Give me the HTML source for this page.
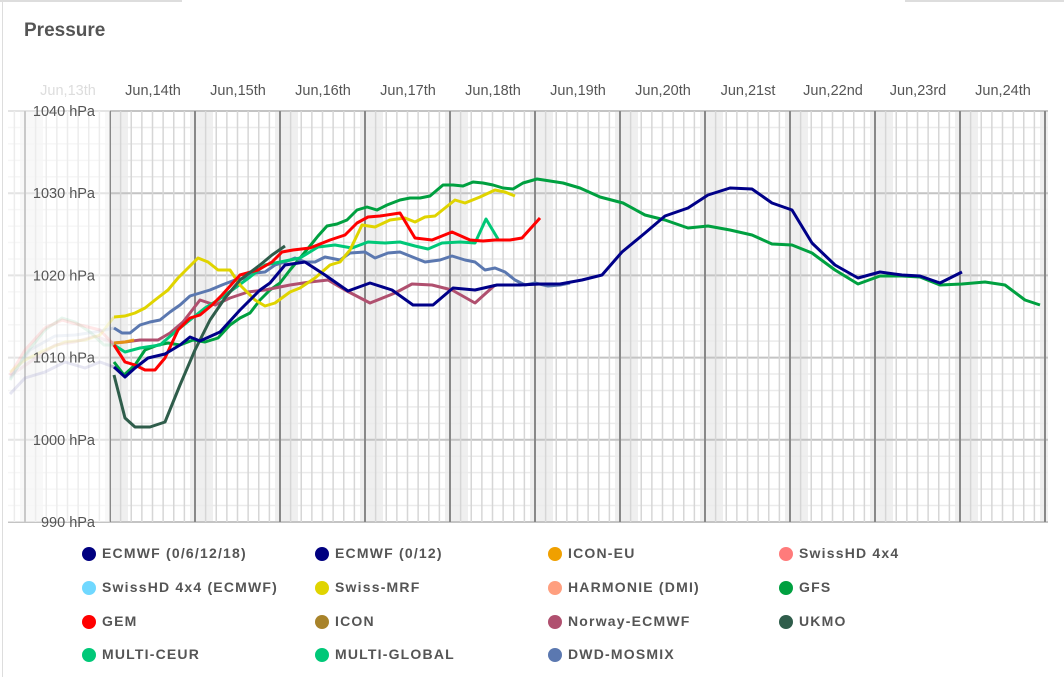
<!DOCTYPE html>
<html><head><meta charset="utf-8"><style>
body{margin:0;background:#fff;width:1064px;height:677px;overflow:hidden;font-family:"Liberation Sans",sans-serif}
.lg{position:absolute;font:bold 14px "Liberation Sans",sans-serif;color:#555;letter-spacing:1.2px}
.lg i{position:absolute;left:-20px;top:2px;width:14px;height:14px;border-radius:50%}
</style></head><body>
<svg id="s" width="1064" height="677" style="position:absolute;left:0;top:0"></svg>
<div style="position:absolute;left:0;top:0;width:182px;height:2px;background:#ddd"></div>
<div style="position:absolute;left:905px;top:0;width:159px;height:2px;background:#ddd"></div>
<div style="position:absolute;left:2px;top:0;width:1px;height:677px;background:#ddd"></div>
<div style="position:absolute;left:24px;top:20px;font:bold 19px 'Liberation Sans',sans-serif;color:#555">Pressure</div>
<div id="leg"></div>
<script>
var s=document.getElementById('s'),h='';
function L(x1,y1,x2,y2,c,w){h+='<line x1="'+x1+'" y1="'+y1+'" x2="'+x2+'" y2="'+y2+'" stroke="'+c+'" stroke-width="'+w+'"/>';}
var X0=110,D=85,Y40=111,P=8.22;
function Y(p){return Y40+(1040-p)*P;}
for(var d=-1;d<12;d++){var m=X0+d*D;var a=Math.max(m-5,8),b=Math.min(m+18,1048);if(b>a)h+='<rect x="'+a+'" y="111" width="'+(b-a)+'" height="411" fill="#efefef"/>';}
for(var p=990;p<=1040;p+=2){L(8,Y(p),1048,Y(p),p%10==0?'#c4c4c4':'#ebebeb',p%10==0?2:1.5);}
for(var k=-30;k<=100;k++){var x=X0+k*D/8;if(x<8||x>1048)continue;L(x,111,x,522,k%8==0?'#888':'#d6d6d6',k%8==0?2:1.5);}
var labels=['Jun,13th','Jun,14th','Jun,15th','Jun,16th','Jun,17th','Jun,18th','Jun,19th','Jun,20th','Jun,21st','Jun,22nd','Jun,23rd','Jun,24th'];
for(var i=0;i<12;i++)h+='<text x="'+(X0-42+i*D)+'" y="95" text-anchor="middle" font-size="14.5" fill="'+(i==0?'#ddd':'#555')+'" font-family="Liberation Sans">'+labels[i]+'</text>';
function pl(pts,c,w,o){h+='<polyline fill="none" stroke="'+c+'" stroke-width="'+(w||3)+'" stroke-linejoin="round" opacity="'+(o||1)+'" points="'+pts+'"/>';}
pl('10,380 25,355 45,330 62,318 75,322 90,332 104,345 114,345','#00a040',3,.2);
pl('10,375 25,350 45,328 62,320 80,325 100,330 114,345','#ff0000',3,.2);
pl('10,372 25,360 45,350 65,342 85,340 100,335 114,317','#e0d400',3,.3);
pl('10,394 25,378 45,372 65,362 85,368 100,362 114,367','#000080',3,.22);
pl('10,376 30,362 55,345 75,342 95,336 114,343','#b0506f',3,.2);
pl('10,378 30,350 55,336 75,335 95,332 114,328','#5b78b0',3,.2);
h+='<rect x="8" y="100" width="102" height="422" fill="#fff" opacity=".55"/>';
pl('114,362 124,375 135,365 145,350 158,345 168,343 180,345 193,340 205,342 218,338 230,325 240,318 250,313 260,300 270,290 280,283 290,270 300,258 310,246 318,236 327,226 337,224 347,220 357,210 367,207 377,210 387,205 400,200 410,198 420,198 430,196 443,185 453,185 463,186 473,182 483,183 493,185 503,188 513,189 523,183 537,179 550,181 563,183 580,188 600,197 623,203 645,215 665,220 688,228 708,226 730,230 752,235 772,244 792,245 812,253 835,270 858,284 880,276 902,276 920,277 940,285 962,284 985,282 1005,285 1025,300 1040,305','#00a040');
pl('114,343 125,342 140,340 158,340 170,333 183,322 200,300 215,305 230,298 248,292 265,290 275,288 290,285 310,282 328,280 345,290 370,303 395,293 412,284 432,285 452,290 475,303 495,285','#b0506f');
pl('114,328 122,333 130,333 140,325 150,322 160,320 170,312 180,305 190,296 200,293 210,290 222,285 235,280 245,278 255,273 265,272 275,265 285,262 295,258 305,262 315,262 325,257 340,260 350,253 365,252 375,258 388,253 400,252 410,256 425,262 440,260 452,256 465,260 475,262 485,270 495,268 505,272 515,280 525,285 535,283 548,286 560,285 570,283','#5b78b0');
pl('114,345 125,352 140,348 160,345 175,332 190,320 205,308 218,300 235,288 250,277 265,265 280,262 300,258 318,247 335,245 352,248 368,242 385,243 400,242 415,246 428,249 442,243 460,242 475,243 486,219 498,239','#00c878');
pl('114,317 125,316 135,313 145,308 155,300 168,290 178,278 188,268 198,258 208,262 218,270 230,270 240,285 255,300 265,306 275,303 290,292 300,288 315,278 330,265 340,262 350,250 362,225 375,227 390,220 405,218 415,222 425,217 435,216 445,208 455,200 465,203 480,197 495,190 505,192 515,196','#e0d400');
pl('114,345 125,362 135,365 145,370 155,370 165,358 178,330 190,318 200,315 212,305 222,295 240,275 258,270 272,262 282,252 293,250 310,248 330,240 345,235 357,223 368,217 380,216 400,213 415,238 432,240 452,232 470,240 483,241 495,240 510,240 522,238 540,218','#ff0000');
pl('114,375 125,418 135,427 150,427 165,422 180,385 195,350 210,320 225,298 240,280 260,265 272,255 285,246','#2f5d4b');
pl('114,367 125,377 135,368 148,358 165,354 180,345 190,337 200,341 220,332 240,310 260,290 270,283 285,265 305,262 325,275 348,291 370,283 392,290 413,305 433,305 453,288 475,290 497,285 520,285 540,284 560,284 582,280 602,275 622,252 645,233 665,216 688,208 708,195 730,188 752,189 772,203 792,210 812,243 835,265 858,278 880,272 902,275 920,276 940,283 962,272','#000088');
pl('114,343 125,342 134,340','#f0a000',3,.8);
var yl=[1040,1030,1020,1010,1000,990];
for(var i=0;i<6;i++)h+='<text x="95" y="'+(Y(yl[i])+5)+'" text-anchor="end" font-size="14.5" fill="#555" font-family="Liberation Sans">'+yl[i]+' hPa</text>';
s.innerHTML=h;
var lg=[['ECMWF (0/6/12/18)','#000080'],['ECMWF (0/12)','#000080'],['ICON-EU','#f0a000'],['SwissHD 4x4','#ff7b7b'],['SwissHD 4x4 (ECMWF)','#70d8ff'],['Swiss-MRF','#e0d400'],['HARMONIE (DMI)','#ff9f7f'],['GFS','#00a040'],['GEM','#ff0000'],['ICON','#a8832a'],['Norway-ECMWF','#b0506f'],['UKMO','#2f5d4b'],['MULTI-CEUR','#00c878'],['MULTI-GLOBAL','#00c878'],['DWD-MOSMIX','#5b78b0']];
var cx=[102,335,568,799],ry=[545,579,613,646],g='';
lg.forEach(function(e,i){g+='<div class="lg" style="left:'+cx[i%4]+'px;top:'+ry[Math.floor(i/4)]+'px"><i style="background:'+e[1]+'"></i>'+e[0]+'</div>';});
document.getElementById('leg').innerHTML=g;
</script>
</body></html>
